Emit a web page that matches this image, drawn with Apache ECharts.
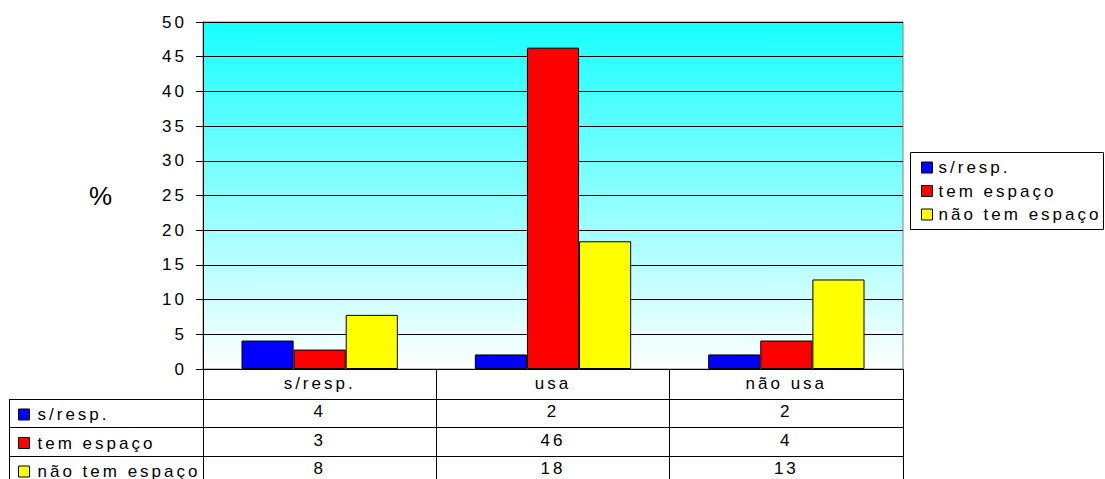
<!DOCTYPE html>
<html>
<head>
<meta charset="utf-8">
<script src="https://cdn.jsdelivr.net/npm/echarts@6/dist/echarts.min.js"></script>
<style>
  html, body { margin: 0; padding: 0; background: #fff; }
  #chart { width: 1105px; height: 479px; letter-spacing: 3px; }
</style>
</head>
<body>
<div id="chart"></div>
<script>
const categories = ['s/resp.', 'usa', 'não usa'];
const seriesNames = ['s/resp.', 'tem espaço', 'não tem espaço'];
const sRespValues = [4.1, 2.1, 2.1];
const temEspacoValues = [2.8, 46.3, 4.1];
const naoTemEspacoValues = [7.8, 18.4, 12.9];
const yTicks = { min: 0, max: 50, interval: 5 };

const seriesValues = [sRespValues, temEspacoValues, naoTemEspacoValues];
const colors = ['#0000FF', '#FF0000', '#FFFF00'];

const FONT = 'Liberation Sans, Arial, sans-serif';
const chart = echarts.init(document.getElementById('chart'), null, { renderer: 'svg' });

const tableLines = [399.5, 427.5, 456.5].map(y => ({
  type: 'line', silent: true,
  shape: { x1: 9, y1: y, x2: 903, y2: y },
  style: { stroke: '#000', lineWidth: 1 }
}));

const legendBase = {
  data: seriesNames,
  orient: 'vertical',
  itemWidth: 11, itemHeight: 11,
  icon: 'rect', selectedMode: false,
  itemStyle: { borderColor: '#000', borderWidth: 1 },
  height: 120
};

chart.setOption({
  animation: false,
  textStyle: { fontFamily: FONT },
  grid: {
    left: 203, right: 202, top: 22, bottom: 110,
    outerBoundsMode: 'none',
    containLabel: false,
    show: true,
    backgroundColor: {
      type: 'linear', x: 0, y: 0, x2: 0, y2: 1,
      colorStops: [{ offset: 0, color: '#17FFFF' }, { offset: 1, color: '#FFFFFF' }]
    },
    borderColor: '#808080', borderWidth: 1
  },
  legend: [
    Object.assign({}, legendBase, {
      left: 916, top: 154, itemGap: 6.5,
      textStyle: { fontSize: 17, color: '#000', fontFamily: FONT, lineHeight: 17, padding: [0, 0, 0, 1] }
    }),
    Object.assign({}, legendBase, {
      left: 13, top: 401, itemGap: 11.5,
      textStyle: { fontSize: 17, color: '#000', fontFamily: FONT, lineHeight: 17, padding: [0, 0, 0, 3] }
    })
  ],
  xAxis: {
    type: 'category',
    data: categories,
    axisLine: { lineStyle: { color: '#000', width: 1 } },
    axisTick: { show: true, length: 110, lineStyle: { color: '#000', width: 1 } },
    axisLabel: {
      margin: 0,
      fontSize: 17,
      color: '#000',
      lineHeight: 28.5,
      verticalAlign: 'top',
      formatter: (value, index) => [value].concat(seriesValues.map(a => String(Math.round(a[index])))).join('\n')
    },
    splitLine: { show: false }
  },
  yAxis: {
    type: 'value',
    min: yTicks.min, max: yTicks.max, interval: yTicks.interval,
    name: '%',
    nameLocation: 'middle',
    nameRotate: 0,
    nameGap: 88,
    nameTextStyle: { fontSize: 26, color: '#000', padding: [10, 0, 0, 0] },
    axisLine: { show: true, lineStyle: { color: '#000', width: 1 } },
    axisTick: { show: true, length: 7, lineStyle: { color: '#000' } },
    axisLabel: { fontSize: 17, color: '#000', margin: 16 },
    splitLine: { lineStyle: { color: '#000', width: 1 } }
  },
  series: seriesNames.map((name, i) => ({
    name,
    type: 'bar',
    data: seriesValues[i],
    barGap: '0%',
    barCategoryGap: '33%',
    itemStyle: { color: colors[i], borderColor: '#000', borderWidth: 1 }
  })),
  graphic: [
    {
      type: 'rect', silent: true, z: -1,
      shape: { x: 910.5, y: 152.5, width: 193, height: 77 },
      style: { fill: '#fff', stroke: '#000', lineWidth: 1 }
    },
    {
      type: 'line', silent: true,
      shape: { x1: 9.5, y1: 399, x2: 9.5, y2: 479 },
      style: { stroke: '#000', lineWidth: 1 }
    }
  ].concat(tableLines)
});
</script>
</body>
</html>
